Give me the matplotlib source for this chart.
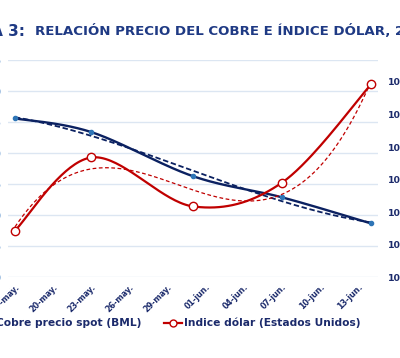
import numpy as np
import matplotlib
matplotlib.use("Agg")
import matplotlib.pyplot as plt
from matplotlib.lines import Line2D

# data
fechas = ["17-may.", "20-may.", "23-may.", "26-may.", "29-may.",
          "01-jun.", "04-jun.", "07-jun.", "10-jun.", "13-jun."]
fechas_dias = [0, 3, 6, 9, 12, 15, 18, 21, 24, 27]   # days after 17-may
obs_dias = [0, 6, 14, 21, 28]                          # 17-may, 23-may, 31-may, 07-jun, 14-jun
cobre = [3.256, 3.234, 3.163, 3.129, 3.087]            # left axis
dolar = [101.44, 103.68, 102.18, 102.91, 105.92]       # right axis
ticks_izq = [3.00, 3.05, 3.10, 3.15, 3.20, 3.25, 3.30, 3.35]
ticks_der = [100, 101, 102, 103, 104, 105, 106]

NAVY = "#1B2A6B"
TITLE = "#1F3A84"
AZUL = "#0B2161"
ROJO = "#C00000"
GRID = "#DCE6F2"


def suavizar(x, y, n=40):
    """excel-like smoothed line (catmull-rom bezier through the points)"""
    P = np.column_stack([x, y]).astype(float)
    m = len(P)
    out = []
    for i in range(m - 1):
        p0 = P[max(i - 1, 0)]
        p1 = P[i]
        p2 = P[i + 1]
        p3 = P[min(i + 2, m - 1)]
        c1 = p1 + (p2 - p0) / 6.0
        c2 = p2 - (p3 - p1) / 6.0
        t = np.linspace(0, 1, n)[:, None]
        seg = ((1 - t) ** 3) * p1 + 3 * ((1 - t) ** 2) * t * c1 + 3 * (1 - t) * t ** 2 * c2 + t ** 3 * p2
        out.append(seg)
    out = np.vstack(out)
    return out[:, 0], out[:, 1]


fig = plt.figure(figsize=(4, 3.58), dpi=100)
ax = fig.add_axes([0.02, 0.2249, 0.925, 0.6075])
ax2 = ax.twinx()

ax.set_xlim(-0.55, 28.55)
ax.set_ylim(ticks_izq[0], ticks_izq[-1])
ax2.set_ylim(100, 106.67)

for a in (ax, ax2):
    for s in a.spines.values():
        s.set_visible(False)

ax.set_yticks(ticks_izq)
ax.set_yticklabels(["%.2f" % v for v in ticks_izq])
ax.yaxis.grid(True, color=GRID, lw=1.0)
ax.set_axisbelow(True)
ax.tick_params(axis="y", length=0, pad=4.5, labelsize=6.5, labelcolor="#4A86C8")

ax2.set_yticks(ticks_der)
ax2.set_yticklabels([str(v) for v in ticks_der], fontweight="bold")
ax2.tick_params(axis="y", length=0, pad=7.2, labelsize=6.7, labelcolor=NAVY)

ax.set_xticks(fechas_dias)
ax.set_xticklabels(fechas, rotation=45, ha="right", rotation_mode="anchor",
                   fontsize=5.8, fontweight="bold", color=NAVY)
ax.tick_params(axis="x", length=0, pad=3.5)

# trend lines (polynomial, order 3)
xt = np.linspace(obs_dias[0], obs_dias[-1], 200)
ax.plot(xt, np.polyval(np.polyfit(obs_dias, cobre, 3), xt), color=AZUL, lw=1.3,
        ls=(0, (3, 1.5)), zorder=2)
ax2.plot(xt, np.polyval(np.polyfit(obs_dias, dolar, 3), xt), color=ROJO, lw=0.9,
         ls=(0, (3, 2)), zorder=2)

# smoothed series
xs, ys = suavizar(obs_dias, cobre)
ax.plot(xs, ys, color=AZUL, lw=1.7, zorder=3)
ax.plot(obs_dias, cobre, ls="none", marker="o", ms=3, mfc="#2E75B6", mec="#2E75B6", zorder=4)

xs, ys = suavizar(obs_dias, dolar)
ax2.plot(xs, ys, color=ROJO, lw=1.6, zorder=3)
ax2.plot(obs_dias, dolar, ls="none", marker="o", ms=6, mfc="white", mec=ROJO, mew=1.0, zorder=4)

# title (cut at both sides like the reference)
fig.text(25 / 400, 1 - 31 / 358, "GRÁFICA 3:", ha="right", va="center",
         fontsize=11, fontweight="bold", color=TITLE)
fig.text(35 / 400, 1 - 31 / 358, "RELACIÓN PRECIO DEL COBRE E ÍNDICE DÓLAR, 2013",
         ha="left", va="center", fontsize=9.6, fontweight="bold", color=TITLE)

# legend
h1 = Line2D([], [], color=AZUL, lw=1.7, marker="o", ms=3, mfc="#2E75B6", mec="#2E75B6")
h2 = Line2D([], [], color=ROJO, lw=1.6, marker="o", ms=5, mfc="white", mec=ROJO, mew=1.0)
fig.legend([h1, h2], ["Cobre precio spot (BML)", "Indice dólar (Estados Unidos)"],
           loc="center left", bbox_to_anchor=(-24 / 400, 1 - 323 / 358), ncol=2,
           frameon=False, borderpad=0, borderaxespad=0, handlelength=1.68,
           handletextpad=0.19, columnspacing=2.15,
           prop={"size": 7.7, "weight": "bold"}, labelcolor=NAVY)

fig.savefig("out.png", dpi=100)
